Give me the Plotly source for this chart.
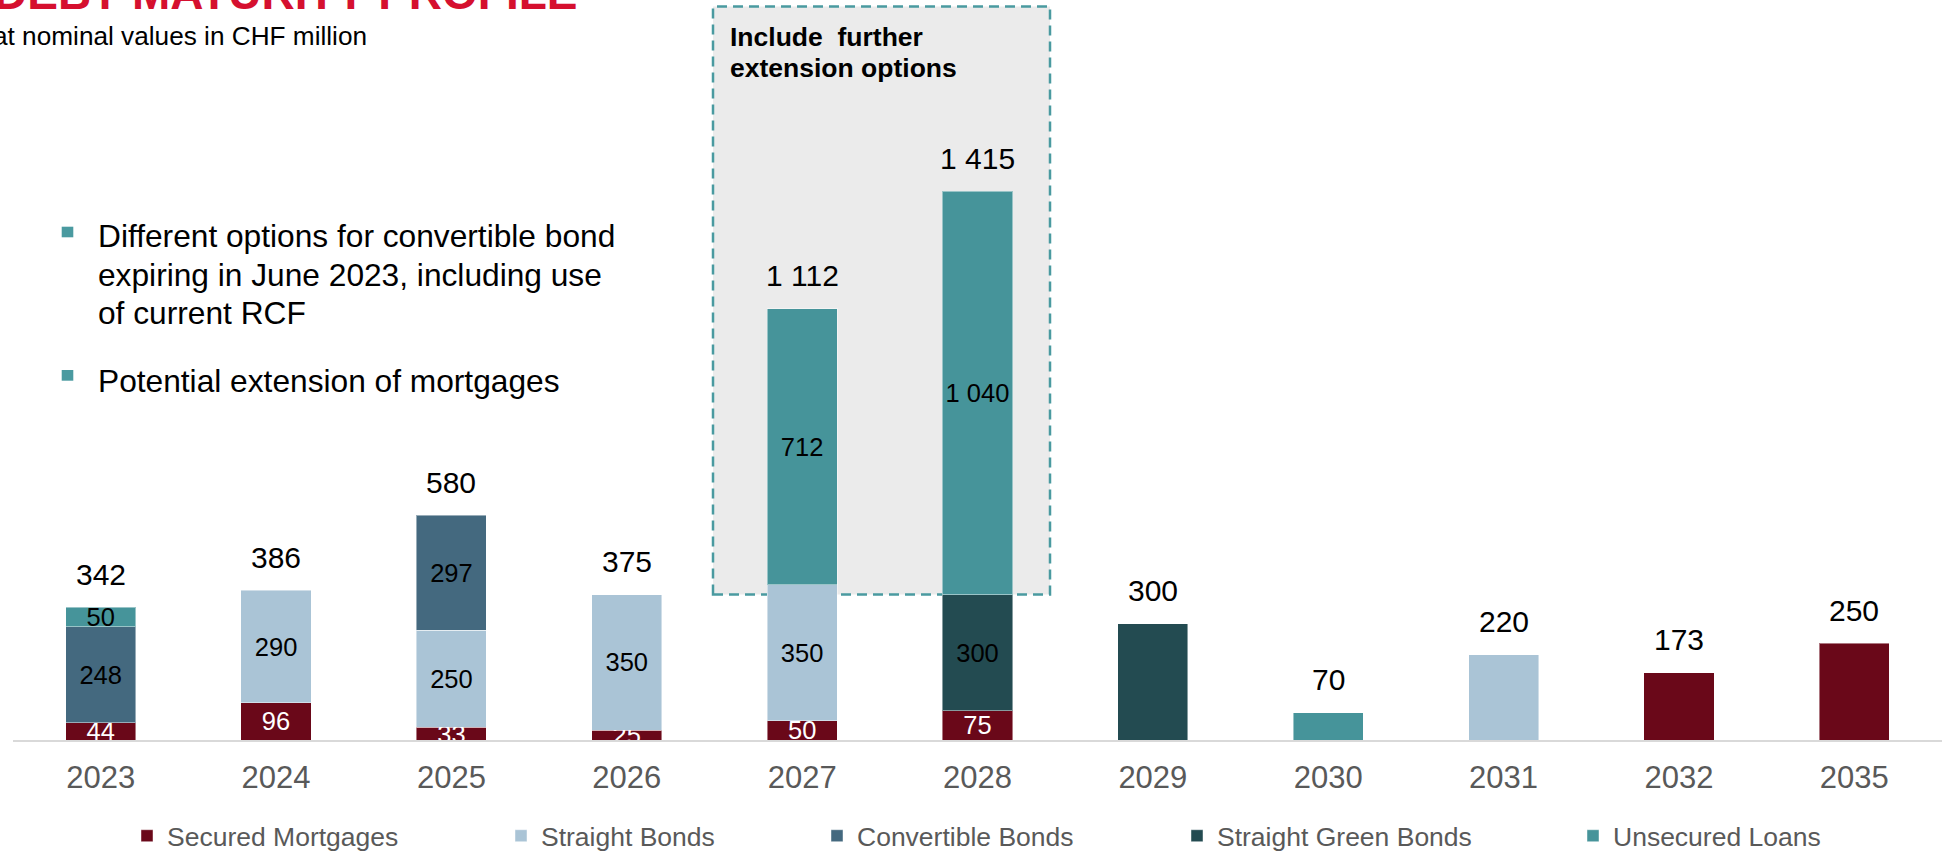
import plotly.graph_objects as go

# ---- canvas and plot-area geometry -------------------------------------
W, H = 1942, 852
ML, MR, MT, MB = 13, 0, 0, 112
PW, PH = W - ML - MR, H - MT - MB


def px_x(px):
    """Horizontal pixel -> paper coordinate."""
    return (px - ML) / PW


def px_y(py):
    """Vertical pixel (from top) -> paper coordinate."""
    return (MT + PH - py) / PH


FONT = "Arial, Liberation Sans, sans-serif"

# ---- data (CHF million) -------------------------------------------------
years = ["2023", "2024", "2025", "2026", "2027", "2028",
         "2029", "2030", "2031", "2032", "2035"]
secured_mortgages = [44, 96, 33, 25, 50, 75, 0, 0, 0, 173, 250]
straight_bonds = [0, 290, 250, 350, 350, 0, 0, 0, 220, 0, 0]
convertible_bonds = [248, 0, 297, 0, 0, 0, 0, 0, 0, 0, 0]
straight_green_bonds = [0, 0, 0, 0, 0, 300, 300, 0, 0, 0, 0]
unsecured_loans = [50, 0, 0, 0, 712, 1040, 0, 70, 0, 0, 0]

# years whose individual segments carry a value label
labelled_years = ["2023", "2024", "2025", "2026", "2027", "2028"]

series_names = ["Secured Mortgages", "Straight Bonds", "Convertible Bonds",
                "Straight Green Bonds", "Unsecured Loans"]
series_values = [secured_mortgages, straight_bonds, convertible_bonds,
                 straight_green_bonds, unsecured_loans]
series_colors = ["#6A0819", "#AAC4D6", "#44697F", "#234B51", "#46949A"]
label_colors = ["#FFFFFF", "#000000", "#000000", "#000000", "#000000"]

# left edge (px) of each legend entry's text
legend_text_left = [167, 541, 857, 1217, 1613]

bullet_lines = [
    "Different options for convertible bond",
    "expiring in June 2023, including use",
    "of current RCF",
    "Potential extension of mortgages",
]
bullet_line_y = [236.0, 275, 313, 381.0]


def fmt(v):
    return f"{v:,}".replace(",", " ")


totals = [sum(s[i] for s in series_values) for i in range(len(years))]

fig = go.Figure()

for k, (name, vals, color, tcol) in enumerate(
        zip(series_names, series_values, series_colors, label_colors)):
    fig.add_trace(go.Bar(
        name=name,
        x=years,
        y=[v if v else None for v in vals],
        marker=dict(color=color, line=dict(width=1, color="rgba(255,255,255,0.45)")),
        text=[fmt(v) if (v and yr in labelled_years) else "" for v, yr in zip(vals, years)],
        textposition="inside",
        insidetextanchor="middle",
        textangle=0,
        textfont=dict(family=FONT, size=25.5, color=tcol),
        legend="legend" if k == 0 else f"legend{k + 1}",
        hoverinfo="skip",
    ))

# total above each bar (x given as category index)
annotations = []
for i, tot in enumerate(totals):
    annotations.append(dict(
        x=i, y=tot, xref="x", yref="y", text=fmt(tot), showarrow=False,
        yanchor="middle", yshift=33,
        font=dict(family=FONT, size=30, color="#000000"),
    ))

# heading, sub-heading
annotations.append(dict(
    x=px_x(580), y=px_y(-7), xref="paper", yref="paper", xanchor="right",
    yanchor="middle", showarrow=False, text="<b>DEBT MATURITY PROFILE</b>",
    font=dict(family=FONT, size=46, color="#D5102F"),
))
annotations.append(dict(
    x=px_x(-9), y=px_y(36.3), xref="paper", yref="paper", xanchor="left",
    yanchor="middle", showarrow=False, text="at nominal values in CHF million",
    font=dict(family=FONT, size=26.2, color="#000000"),
))

# bullet comments
for line, yc in zip(bullet_lines, bullet_line_y):
    annotations.append(dict(
        x=px_x(96), y=px_y(yc), xref="paper", yref="paper", xanchor="left",
        yanchor="middle", align="left", showarrow=False, text=line,
        font=dict(family=FONT, size=31.7, color="#000000"),
    ))

# caption inside the highlighted region
annotations.append(dict(
    x=px_x(728), y=px_y(37.5), xref="paper", yref="paper", xanchor="left",
    yanchor="middle", showarrow=False, text="<b>Include\u00a0 further</b>",
    font=dict(family=FONT, size=26.5, color="#000000"),
))
annotations.append(dict(
    x=px_x(728), y=px_y(68), xref="paper", yref="paper", xanchor="left",
    yanchor="middle", showarrow=False, text="<b>extension options</b>",
    font=dict(family=FONT, size=26.5, color="#000000"),
))

shapes = [
    # highlighted region behind 2027/2028
    dict(type="rect", xref="paper", yref="paper", layer="below",
         x0=px_x(713), x1=px_x(1050), y0=px_y(594.5), y1=px_y(6.5),
         fillcolor="#EBEBEB",
         line=dict(color="#4A9AA0", width=2.5, dash="10px,6px")),
    # bullet markers
    dict(type="rect", xref="paper", yref="paper",
         x0=px_x(61.7), x1=px_x(73.3), y0=px_y(237.3), y1=px_y(226.7),
         fillcolor="#4A9AA0", line=dict(width=0)),
    dict(type="rect", xref="paper", yref="paper",
         x0=px_x(61.7), x1=px_x(73.3), y0=px_y(380.7), y1=px_y(370),
         fillcolor="#4A9AA0", line=dict(width=0)),
]

layout_legends = {}
for k, left in enumerate(legend_text_left):
    key = "legend" if k == 0 else f"legend{k + 1}"
    layout_legends[key] = dict(
        xref="container", yref="container",
        x=(left - 40) / W, y=(H - 836) / H,
        xanchor="left", yanchor="middle",
        orientation="h", bgcolor="rgba(0,0,0,0)", borderwidth=0,
        font=dict(family=FONT, size=26.5, color="#595959"),
    )

fig.update_layout(
    width=W, height=H,
    margin=dict(l=ML, r=MR, t=MT, b=MB, pad=0, autoexpand=False),
    paper_bgcolor="#FFFFFF", plot_bgcolor="#FFFFFF",
    barmode="stack", bargap=0.6,
    showlegend=True,
    uniformtext=dict(minsize=25.5, mode="show"),
    annotations=annotations,
    shapes=shapes,
    font=dict(family=FONT),
    xaxis=dict(
        type="category", categoryorder="array", categoryarray=years,
        range=[-0.5, len(years) - 0.5], autorange=False, automargin=False,
        showline=True, linecolor="#D9D9D9", linewidth=2,
        ticks="", showgrid=False, zeroline=False,
        tickfont=dict(family=FONT, size=31, color="#595959"),
        ticklabelstandoff=9, fixedrange=True,
    ),
    yaxis=dict(visible=False, range=[0, PH / 0.3877], autorange=False,
               fixedrange=True),
    **layout_legends,
)

fig.write_html("out.html")
